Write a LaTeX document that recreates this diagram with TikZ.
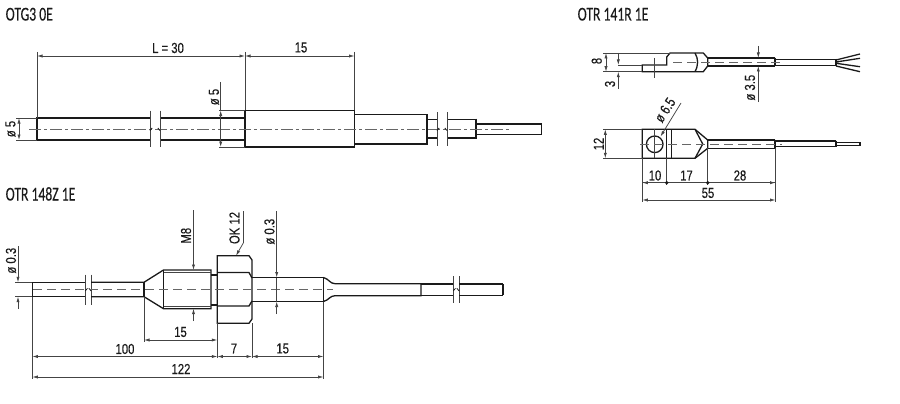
\documentclass[tikz,border=0pt]{standalone}
\usepackage{fontspec}
\setmainfont[FakeStretch=0.78,FakeBold=0.25]{Liberation Sans}
\newfontfamily\titlefont[FakeStretch=0.7,FakeBold=0.3]{Carlito}
\usetikzlibrary{arrows.meta}
\definecolor{inkdark}{HTML}{1A1A1A}
\definecolor{inkthin}{HTML}{444444}
\definecolor{inkaxis}{HTML}{666666}
\tikzset{
  outline/.style={draw=inkdark,line width=1.3pt,line join=miter},
  thickedge/.style={draw=inkdark,line width=1.9pt},
  thinline/.style={draw=inkthin,line width=0.75pt},
  axisline/.style={draw=inkaxis,line width=0.9pt,dash pattern=on 12pt off 3pt on 3pt off 3pt},
  axisdash/.style={draw=inkaxis,line width=0.9pt,dash pattern=on 9pt off 5pt},
  dimline/.style={thinline,{Latex[length=5.5pt,width=3.2pt]}-{Latex[length=5.5pt,width=3.2pt]}},
  dimtip/.style={thinline,-{Latex[length=5.5pt,width=3.2pt]}},
  dimlabel/.style={font=\fontsize{14.5}{14.5}\selectfont,text=inkdark,inner sep=0pt},
  vlabel/.style={dimlabel,rotate=90},
  titlelabel/.style={font=\titlefont\fontsize{19.5}{19.5}\selectfont,text=inkdark,inner sep=0pt,anchor=base west}
}
\begin{document}
\begin{tikzpicture}[x=1pt,y=-1pt]
\useasboundingbox (0,0) rectangle (900,404);

% titres
\node[titlelabel] (titleOTG) at (5.5,20.5) {OTG3 0E};
\node[titlelabel] (titleZ) at (5.5,200.5) {OTR 148Z 1E};
\node[titlelabel] (titleR) at (577.5,20.5) {OTR 141R 1E};

% OTG3 0E : sonde
\draw[outline] (150,118) -- (37,118) -- (37,140) -- (150,140);
\draw[outline] (160,118) -- (245,118) (160,140) -- (245,140);
\draw[outline] (245,110.5) rectangle (354.5,147);
\draw[outline] (354.5,114.5) -- (427,114.5) -- (427,144) -- (354.5,144);
\draw[outline] (427,119.3) -- (437,119.3) (427,138) -- (437,138);
\draw[outline] (447,119.3) -- (476,119.3) (447,138) -- (476,138);
\draw[thickedge] (476,118.5) -- (476,138.5);
\draw[outline] (476,124) -- (541.7,124) -- (541.7,134.7) -- (476,134.7);
\draw[axisline] (29,129) -- (510,129);

% coupures
\foreach \xa/\xb/\ya/\yb/\ym in {150/160/110.5/147/129, 437/447/112/146/129,
                                 85.3/91/274.7/304.7/289.3, 453.3/459/276/302.7/289.3} {
    \draw[thinline] (\xa,\ya) -- (\xa,\yb) (\xb,\ya) -- (\xb,\yb);
    \draw[outline,line width=0.8pt] (\xa,\ym+1.5) -- (\xa+2.2,\ym-1) (\xb,\ym+1.5) -- (\xb-2.2,\ym-1);
}

% OTG3 0E : cotes
\draw[thinline] (37,52) -- (37,118) (245,52) -- (245,110) (354.5,52) -- (354.5,110);
\draw[dimline] (37,56) -- (245,56);
\draw[dimline] (245,56) -- (354.5,56);
\node[dimlabel] (lblThirty) at (168,48) {L = 30};
\node[dimlabel] (lblFifteenA) at (301,47.5) {15};
\draw[thinline] (16,118) -- (37,118) (16,140) -- (37,140);
\draw[dimline] (19,118) -- (19,140);
\node[vlabel] (lblDiaA) at (10.5,129) {ø 5};
\draw[thinline] (219,110.5) -- (245,110.5) (219,147) -- (245,147) (220.7,82) -- (220.7,110.5);
\draw[dimline] (220.7,110.5) -- (220.7,147);
\node[vlabel] (lblDiaB) at (214,97) {ø 5};

% OTR 148Z 1E : sonde
\draw[outline] (85.3,282.3) -- (32.3,282.3) -- (32.3,296.7) -- (85.3,296.7);
\draw[outline] (91,282.3) -- (144,282.3) -- (163.5,270) -- (211,270) -- (211,308.7) -- (163.5,308.7) -- (144,296.7) -- (91,296.7);
\draw[outline] (144,282.3) -- (144,296.7) (163.5,270) -- (163.5,308.7);
\draw[thinline] (163.5,272.7) -- (211,272.7) (163.5,306) -- (211,306);
\draw[outline] (211,275) -- (217.3,275) (211,305) -- (217.3,305);
% écrou
\draw[outline] (217.3,255.7) -- (249,255.7) -- (252,260) -- (252,319) -- (249,323.3) -- (217.3,323.3) -- cycle;
\draw[outline] (217.3,272.5) -- (249,272.5) -- (252,278) (217.3,306) -- (249,306) -- (252,301);
\draw[outline] (252,277.5) -- (323.5,277.5) -- (323.5,301.5) -- (252,301.5);
\draw[outline] (323.5,277.5) .. controls (329,279) and (330,283.7) .. (335,283.7) -- (421,283.7) -- (421,295.7) -- (335,295.7) .. controls (330,295.7) and (329,300) .. (323.5,301.5);
\draw[outline] (421,284) -- (453.3,284) (421,295.3) -- (453.3,295.3);
\draw[outline] (459,284) -- (502.7,284) (459,295.3) -- (502.7,295.3);
\draw[thickedge] (502.7,284) -- (502.7,295.3);
\draw[axisdash] (33,289.3) -- (333,289.3);

% OTR 148Z 1E : cotes
\draw[thinline] (15,282.3) -- (32,282.3) (15,296.7) -- (32,296.7);
\draw[dimtip] (18,246) -- (18,282.3);
\draw[dimtip] (18,309) -- (18,296.7);
\node[vlabel] (lblDiaC) at (11,260.7) {ø 0.3};
\draw[dimtip] (193.5,210) -- (193.5,270);
\draw[dimtip] (193.5,321) -- (193.5,308.7);
\node[vlabel] (lblMeight) at (186,235.7) {M8};
\draw[thinline] (243.3,211) -- (243.3,243);
\draw[dimtip] (243.3,243) -- (236,255.7);
\node[vlabel] (lblOK) at (234.5,228) {OK 12};
\draw[thinline] (276.7,277.5) -- (276.7,301.5);
\draw[dimtip] (276.7,211) -- (276.7,277.5);
\draw[dimtip] (276.7,314) -- (276.7,301.5);
\node[vlabel] (lblDiaD) at (269.5,231.7) {ø 0.3};

\draw[thinline] (32.3,297) -- (32.3,379) (144,297) -- (144,342) (217.3,323.3) -- (217.3,358)
                (252,323) -- (252,358) (323.5,301.5) -- (323.5,379);
\foreach \xa/\xb/\yd in {144/217.3/340, 32.3/217.3/356.5, 217.3/252/356.5, 252/323.5/356.5, 32.3/323.5/377} {
    \draw[dimline] (\xa,\yd) -- (\xb,\yd);
}
\node[dimlabel] (lblFifteenB) at (180.5,332) {15};
\node[dimlabel] (lblHundred) at (125,349) {100};
\node[dimlabel] (lblSeven) at (234,348.5) {7};
\node[dimlabel] (lblFifteenC) at (282.7,348.5) {15};
\node[dimlabel] (lblTotalA) at (181,369) {122};

% OTR 141R 1E : vue de côté
\draw[outline] (642.3,65) -- (666.7,65) -- (666.7,57) -- (670,53) -- (703.3,53) -- (707.7,58) -- (707.7,66) -- (703.3,71.7) -- (642.3,71.7) -- cycle;
\draw[outline] (695,53) .. controls (698.5,59) and (698.5,65) .. (695,71.7);
\draw[outline] (707.7,58) -- (775,58) (707.7,66) -- (775,66);
\draw[thickedge] (775,57.7) -- (775,66.3);
\draw[outline] (775,59.5) -- (836,59.5) (775,65.3) -- (836,65.3);
\draw[thickedge] (836,58.7) -- (836,66.3);
\draw[outline] (836,60) -- (860,54) (836,62) -- (860,58.3) (836,63.3) -- (860,66.7) (836,66) -- (860,71.7);
\draw[axisdash] (673,62) -- (782,62);
\draw[thinline] (654,58) -- (654,78);
\draw[thinline] (603,53) -- (670,53) (603,71.7) -- (642.3,71.7) (618.3,65) -- (642.3,65);
\draw[dimline] (606,53) -- (606,71.7);
\node[vlabel] (lblEight) at (596.7,61) {8};
\draw[dimtip] (618.3,53) -- (618.3,65);
\draw[dimtip] (618.3,88.7) -- (618.3,71.7);
\node[vlabel] (lblThree) at (610,84) {3};
\draw[dimtip] (758.3,46) -- (758.3,58);
\draw[dimtip] (758.3,102) -- (758.3,66);
\node[vlabel] (lblDiaE) at (750,87.7) {ø 3.5};

% OTR 141R 1E : vue de dessus
\draw[outline] (642.3,129.3) -- (695,129.3) -- (707.7,140) -- (707.7,148.3) -- (695,158.3) -- (642.3,158.3) -- cycle;
\draw[outline] (695,129.3) -- (702.7,144) -- (695,158.3);
\draw[outline] (666.7,129.3) -- (666.7,158.3) (671.5,129.3) -- (671.5,158.3);
\draw[outline] (654.7,144.3) circle (8.3);
\draw[thinline] (654.7,129.3) -- (654.7,158.3);
\draw[outline] (707.7,140) -- (775,140) (707.7,148.3) -- (775,148.3);
\draw[thickedge] (775,139.5) -- (775,148.8);
\draw[outline] (775,141) -- (836,141) (775,146.7) -- (836,146.7);
\draw[thickedge] (836,140.5) -- (836,147.2);
\draw[outline] (836,142.7) -- (860,142.7) -- (860,145.7) -- (836,145.7);
\draw[axisdash] (640,144.3) -- (782,144.3);
\draw[dimtip] (681,103) -- (660.5,136.5);
\node[dimlabel,rotate=57] (lblDiaF) at (665,110) {ø 6.5};
\draw[thinline] (603,129.3) -- (642.3,129.3) (603,158.3) -- (642.3,158.3);
\draw[dimline] (605.3,129.3) -- (605.3,158.3);
\node[vlabel] (lblTwelve) at (598.7,144) {12};

\draw[thinline] (642.3,158.3) -- (642.3,202) (666.7,158.3) -- (666.7,185) (707.7,148.3) -- (707.7,185) (775.5,148.3) -- (775.5,202);
\draw[thinline] (642.3,182.7) -- (775.5,182.7);
\draw[dimtip] (666.7,182.7) -- (642.3,182.7);
\draw[dimtip] (707.7,182.7) -- (775.5,182.7);
\foreach \xd in {666.7,707.7} {
    \fill[inkdark] (\xd,182.7) circle (1.9);
}
\draw[dimline] (642.3,200) -- (775.5,200);
\node[dimlabel] (lblTen) at (655,175.5) {10};
\node[dimlabel] (lblSeventeen) at (686.5,175.5) {17};
\node[dimlabel] (lblTwentyEight) at (740,175.5) {28};
\node[dimlabel] (lblTotalB) at (708,193) {55};
\end{tikzpicture}
\end{document}
